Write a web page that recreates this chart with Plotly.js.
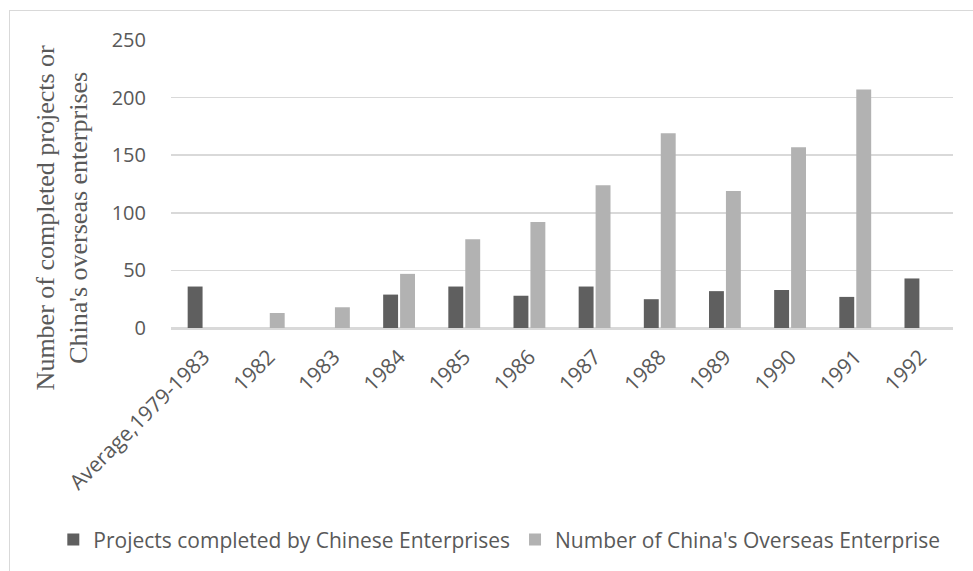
<!DOCTYPE html>
<html>
<head>
<meta charset="utf-8">
<script src="https://cdn.plot.ly/plotly-3.0.1.min.js"></script>
<style>
  html, body { margin: 0; padding: 0; background: #fff; overflow: hidden; }
  #frame { position: absolute; left: 9px; top: 10px; width: 1000px; height: 600px; border: 1px solid #d9d9d9; box-sizing: border-box; }
  #chart { position: absolute; left: 0; top: 0; width: 973px; height: 571px; }
</style>
</head>
<body>
<div id="frame"></div>
<div id="chart"></div>
<script>
const categories = ["Average,1979-1983", "1982", "1983", "1984", "1985", "1986", "1987", "1988", "1989", "1990", "1991", "1992"];
const projectsCompleted = [36, null, null, 29, 36, 28, 36, 25, 32, 33, 27, 43];
const overseasEnterprises = [null, 13, 18, 47, 77, 92, 124, 169, 119, 157, 207, null];
const seriesNames = ["Projects completed by Chinese Enterprises", "Number of China's Overseas Enterprise"];
const yTicks = [0, 50, 100, 150, 200, 250];
const yTitle = "Number of completed projects or<br>China's overseas enterprises";

const sans = "Open Sans, Liberation Sans, sans-serif";

const traces = [
  { type: "bar", name: seriesNames[0], x: categories, y: projectsCompleted, marker: { color: "#5f5f5f" } },
  { type: "bar", name: seriesNames[1], x: categories, y: overseasEnterprises, marker: { color: "#b2b2b2" } }
];

const layout = {
  width: 973, height: 571,
  margin: { l: 171, r: 20, t: 40, b: 242 },
  paper_bgcolor: "rgba(0,0,0,0)",
  plot_bgcolor: "#ffffff",
  barmode: "group",
  bargap: 0.48,
  bargroupgap: 0.12,
  showlegend: true,
  legend: {
    orientation: "h",
    xref: "paper", yref: "paper",
    x: -0.1505, xanchor: "left",
    y: -0.73, yanchor: "middle",
    font: { family: sans, size: 21, color: "#595959" },
    itemwidth: 30, traceorder: "normal"
  },
  xaxis: {
    type: "category",
    tickangle: -45,
    tickfont: { family: sans, size: 21, color: "#595959" },
    ticklabelstandoff: 7,
    showline: true, linecolor: "#d9d9d9", linewidth: 1.5,
    ticks: "", showgrid: false, automargin: false
  },
  yaxis: {
    range: [0, 250],
    tickvals: yTicks,
    tickfont: { family: sans, size: 20, color: "#595959" },
    showgrid: true, gridcolor: "#d9d9d9", gridwidth: 1.5,
    zeroline: true, zerolinecolor: "#d9d9d9", zerolinewidth: 1.5,
    ticks: "", ticklabelstandoff: 24,
    showline: false, automargin: false
  },
  annotations: [{
    text: yTitle,
    xref: "paper", yref: "paper",
    x: -0.1394, y: 0.384,
    xanchor: "center", yanchor: "middle",
    textangle: -90, showarrow: false,
    font: { family: "Liberation Serif, Times New Roman, serif", size: 26, color: "#595959" }
  }]
};

Plotly.newPlot("chart", traces, layout, { displayModeBar: false, staticPlot: true });
</script>
</body>
</html>
